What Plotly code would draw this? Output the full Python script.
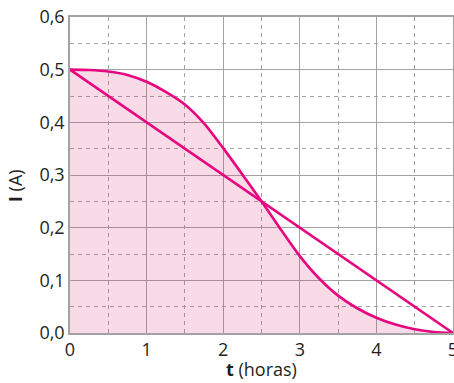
import plotly.graph_objects as go

# Data
t_curve = [0, 0.25, 0.5, 0.75, 1, 1.25, 1.5, 1.75, 2, 2.25, 2.5, 2.75, 3, 3.25, 3.5, 3.75, 4, 4.25, 4.5, 4.75, 5]
i_curve = [0.5, 0.4993, 0.4965, 0.490, 0.477, 0.458, 0.434, 0.398, 0.351, 0.301, 0.25, 0.197, 0.146, 0.104, 0.071, 0.047, 0.029, 0.016, 0.007, 0.002, 0.0]
t_line = [0, 5]
i_line = [0.5, 0.0]
x_ticks = [0, 1, 2, 3, 4, 5]
y_ticks = [0.0, 0.1, 0.2, 0.3, 0.4, 0.5, 0.6]
y_ticktext = ["0,0", "0,1", "0,2", "0,3", "0,4", "0,5", "0,6"]

LINE = "#e6067f"
GRID = "#a3a3a3"
TXT = "#231f20"
FONT = "Open Sans"

fig = go.Figure()
fig.add_trace(go.Scatter(x=t_curve, y=i_curve, mode="lines",
                         line=dict(color=LINE, width=2.6, shape="spline", smoothing=0.8),
                         fill="tozeroy", fillcolor="rgba(220,40,120,0.17)",
                         hoverinfo="skip", showlegend=False))
fig.add_trace(go.Scatter(x=t_line, y=i_line, mode="lines",
                         line=dict(color=LINE, width=2.6),
                         hoverinfo="skip", showlegend=False))

fig.update_layout(
    width=454, height=383,
    margin=dict(l=70, r=1, t=17, b=50),
    paper_bgcolor="white", plot_bgcolor="white",
    font=dict(family=FONT, size=18, color=TXT),
    xaxis=dict(range=[0, 5], tickvals=x_ticks, ticktext=[str(v) for v in x_ticks],
               showgrid=True, gridcolor=GRID, gridwidth=1.3,
               minor=dict(dtick=0.5, showgrid=True, gridcolor=GRID, gridwidth=1, griddash="4px,4px"),
               showline=True, linecolor=GRID, linewidth=1.5, mirror=True,
               zeroline=False, ticks="", fixedrange=True, automargin=False,
               ticklabeloverflow="allow"),
    yaxis=dict(range=[0, 0.6], tickvals=y_ticks, ticktext=y_ticktext,
               showgrid=True, gridcolor=GRID, gridwidth=1.3,
               minor=dict(dtick=0.05, showgrid=True, gridcolor=GRID, gridwidth=1, griddash="4px,4px"),
               showline=True, linecolor=GRID, linewidth=1.5, mirror=True,
               zeroline=False, ticks="", fixedrange=True, automargin=False,
               ticklabeloverflow="allow"),
    annotations=[
        dict(text="<b>t</b> (horas)", x=0.5, xref="paper", y=-0.113, yref="paper",
             xanchor="center", yanchor="middle", showarrow=False, font=dict(size=18, color=TXT)),
        dict(text="<b>I</b> (A)", x=-0.1436, xref="paper", y=0.465, yref="paper",
             xanchor="center", yanchor="middle", showarrow=False, textangle=-90,
             font=dict(size=18, color=TXT)),
    ],
)

fig.write_html("out.html", config={"displayModeBar": False},
               post_script="document.body.style.margin='0';document.body.style.overflow='hidden';")
